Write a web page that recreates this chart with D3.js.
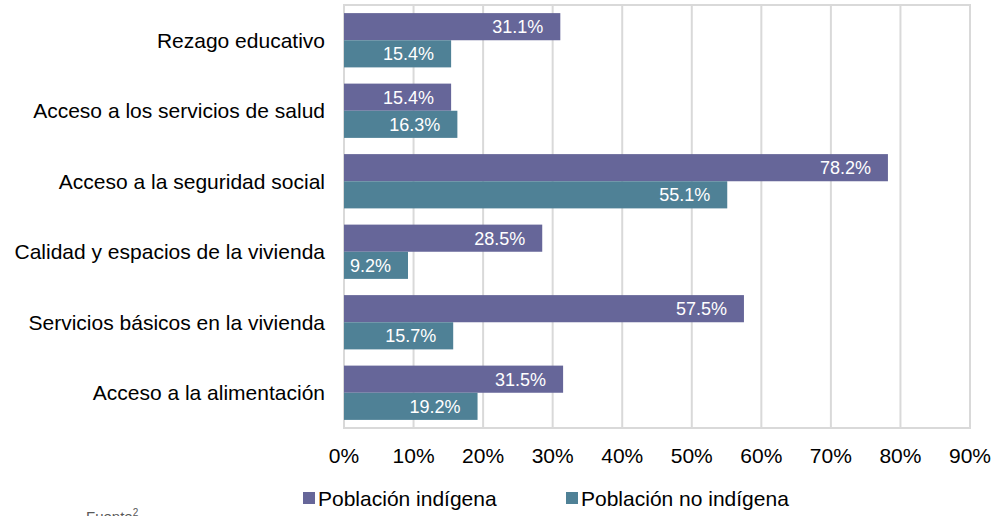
<!DOCTYPE html>
<meta charset="utf-8">
<style>
    body { margin: 0; background: #fff; }
    text { font-family: "Liberation Sans", Arial, sans-serif; }
</style>
<svg width="995" height="516"></svg>
<script src="https://cdn.jsdelivr.net/npm/d3@7"></script>
<script>
    var categories = [
        "Rezago educativo",
        "Acceso a los servicios de salud",
        "Acceso a la seguridad social",
        "Calidad y espacios de la vivienda",
        "Servicios básicos en la vivienda",
        "Acceso a la alimentación"
    ];
    var indigena = [31.1, 15.4, 78.2, 28.5, 57.5, 31.5];
    var noIndigena = [15.4, 16.3, 55.1, 9.2, 15.7, 19.2];
    var seriesNames = ["Población indígena", "Población no indígena"];
    var seriesColors = ["#666699", "#4f8196"];
    var ticks = [0, 10, 20, 30, 40, 50, 60, 70, 80, 90];

    draw();
    function draw() {
        var svg = d3.select("svg");
        var plotLeft = 344, plotRight = 970, plotTop = 5, plotBottom = 428;

        var x = d3.scaleLinear().domain([0, 90]).range([plotLeft, plotRight]);
        var y = d3.scaleBand().domain(categories).range([plotTop, plotBottom]).paddingInner(0.23).paddingOuter(0.115);
        var sub = d3.scaleBand().domain([0, 1]).range([0, y.bandwidth()]);

        // gridlines
        svg.append("g")
            .selectAll("line")
            .data(ticks.slice(1))
            .enter().append("line")
            .attr("x1", function (d) { return x(d); })
            .attr("x2", function (d) { return x(d); })
            .attr("y1", plotTop)
            .attr("y2", plotBottom)
            .attr("stroke", "#d9d9d9")
            .attr("stroke-width", 2);

        // plot border
        svg.append("rect")
            .attr("x", plotLeft).attr("y", plotTop)
            .attr("width", plotRight - plotLeft).attr("height", plotBottom - plotTop)
            .attr("fill", "none")
            .attr("stroke", "#d9d9d9")
            .attr("stroke-width", 2);

        var data = [];
        categories.forEach(function (c, i) {
            data.push({cat: c, s: 0, v: indigena[i]});
            data.push({cat: c, s: 1, v: noIndigena[i]});
        });

        var bars = svg.append("g");
        bars.selectAll("rect")
            .data(data)
            .enter().append("rect")
            .attr("x", x(0))
            .attr("y", function (d) { return y(d.cat) + sub(d.s); })
            .attr("width", function (d) { return x(d.v) - x(0); })
            .attr("height", sub.bandwidth())
            .attr("fill", function (d) { return seriesColors[d.s]; });

        bars.selectAll("text")
            .data(data)
            .enter().append("text")
            .attr("x", function (d) { return x(d.v) - 17; })
            .attr("y", function (d) { return y(d.cat) + sub(d.s) + sub.bandwidth() / 2; })
            .attr("dy", "0.36em")
            .attr("text-anchor", "end")
            .attr("fill", "#fff")
            .style("font-size", "18px")
            .text(function (d) { return d.v.toFixed(1) + "%"; });

        // category labels
        svg.append("g")
            .selectAll("text")
            .data(categories)
            .enter().append("text")
            .attr("x", 325)
            .attr("y", function (d) { return y(d) + y.bandwidth() / 2; })
            .attr("dy", "0.36em")
            .attr("text-anchor", "end")
            .attr("fill", "#000")
            .style("font-size", "21px")
            .text(function (d) { return d; });

        // x tick labels
        svg.append("g")
            .selectAll("text")
            .data(ticks)
            .enter().append("text")
            .attr("x", function (d) { return x(d); })
            .attr("y", 455)
            .attr("dy", "0.36em")
            .attr("text-anchor", "middle")
            .attr("fill", "#000")
            .style("font-size", "21px")
            .text(function (d) { return d + "%"; });

        // legend
        var legendX = [303, 566];
        var legend = svg.append("g");
        seriesNames.forEach(function (n, i) {
            legend.append("rect")
                .attr("x", legendX[i]).attr("y", 492)
                .attr("width", 12).attr("height", 12)
                .attr("fill", seriesColors[i]);
            legend.append("text")
                .attr("x", legendX[i] + 15)
                .attr("y", 498)
                .attr("dy", "0.36em")
                .attr("fill", "#000")
                .style("font-size", "21px")
                .text(n);
        });

        var fuente = svg.append("text")
            .attr("x", 86).attr("y", 522)
            .attr("fill", "#595959")
            .style("font-size", "15px")
            .text("Fuente");
        fuente.append("tspan")
            .attr("dy", -6)
            .style("font-size", "10px")
            .text("2");
    }
</script>
